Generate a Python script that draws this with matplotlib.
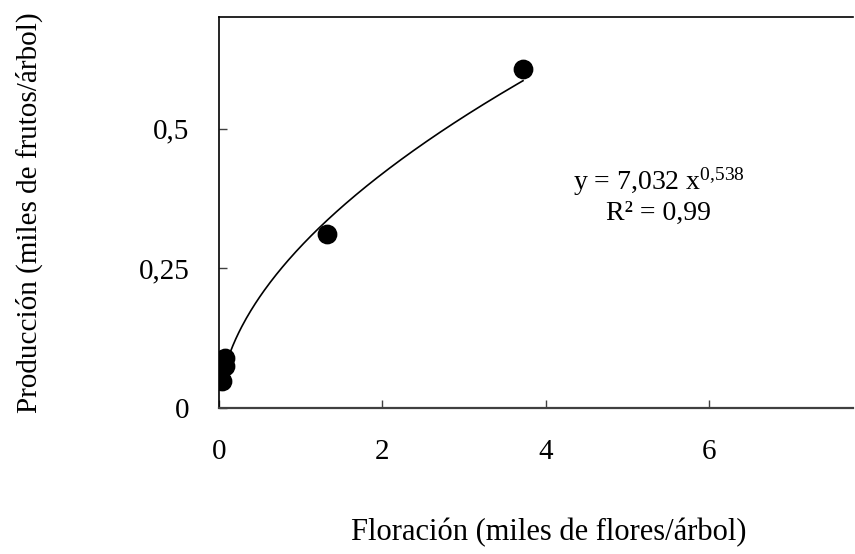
import numpy as np
from matplotlib import pyplot as plt

# flowering vs. production, thousands per tree
floracion = [0.04, 0.07, 0.08, 1.32, 3.72]
produccion = [0.048, 0.075, 0.09, 0.312, 0.607]

# power fit y = a x^b (a given per flower/fruit, rescaled to thousands)
coef_a = 7.032
coef_b = 0.538
r2 = "0,99"

x_ticks = [0, 2, 4, 6]
y_ticks = [0, 0.25, 0.5]
y_tick_labels = ["0", "0,25", "0,5"]

plt.rcParams['font.family'] = ['Liberation Serif', 'DejaVu Serif']
plt.rcParams['mathtext.fontset'] = 'custom'
plt.rcParams['mathtext.rm'] = 'Liberation Serif'
plt.rcParams['mathtext.it'] = 'Liberation Serif:italic'

fig = plt.figure(figsize=(8.55, 5.54), dpi=100)
ax = fig.add_axes([0.256, 0.2635, 0.742, 0.7055])

# fitted curve over the range of the data
a_miles = coef_a * 1000 ** coef_b / 1000
xf = np.linspace(0.06, max(floracion), 200)
ax.plot(xf, a_miles * xf ** coef_b, color='black', lw=1.2)

ax.scatter(floracion, produccion, s=175, color='black', zorder=3)

ax.set_xlim(0, 7.76)
ax.set_ylim(0, 0.70)
ax.set_xticks(x_ticks)
ax.set_xticklabels([str(t) for t in x_ticks])
ax.set_yticks(y_ticks)
ax.set_yticklabels(y_tick_labels)

ax.spines['right'].set_visible(False)
ax.spines['top'].set_linewidth(1.2)
ax.spines['left'].set_linewidth(1.2)
ax.spines['bottom'].set_linewidth(1.6)
ax.spines['bottom'].set_color('#404040')

ax.tick_params(axis='both', direction='in', length=6, width=1, colors='#404040',
               labelcolor='black', labelsize=21)
ax.tick_params(axis='x', pad=22)
ax.tick_params(axis='y', pad=21)

ax.set_xlabel('Floración (miles de flores/árbol)', fontsize=22)
ax.set_ylabel('Producción (miles de frutos/árbol)', fontsize=21)
ax.xaxis.set_label_coords(0.52, -0.28)
ax.yaxis.set_label_coords(-0.277, 0.5)

ax.text(5.38, 0.405, 'y = 7,032 x$^{0{,}538}$', ha='center', va='center', fontsize=20)
ax.text(5.38, 0.349, 'R² = ' + r2, ha='center', va='center', fontsize=20)

plt.savefig('out.png', dpi=100)
